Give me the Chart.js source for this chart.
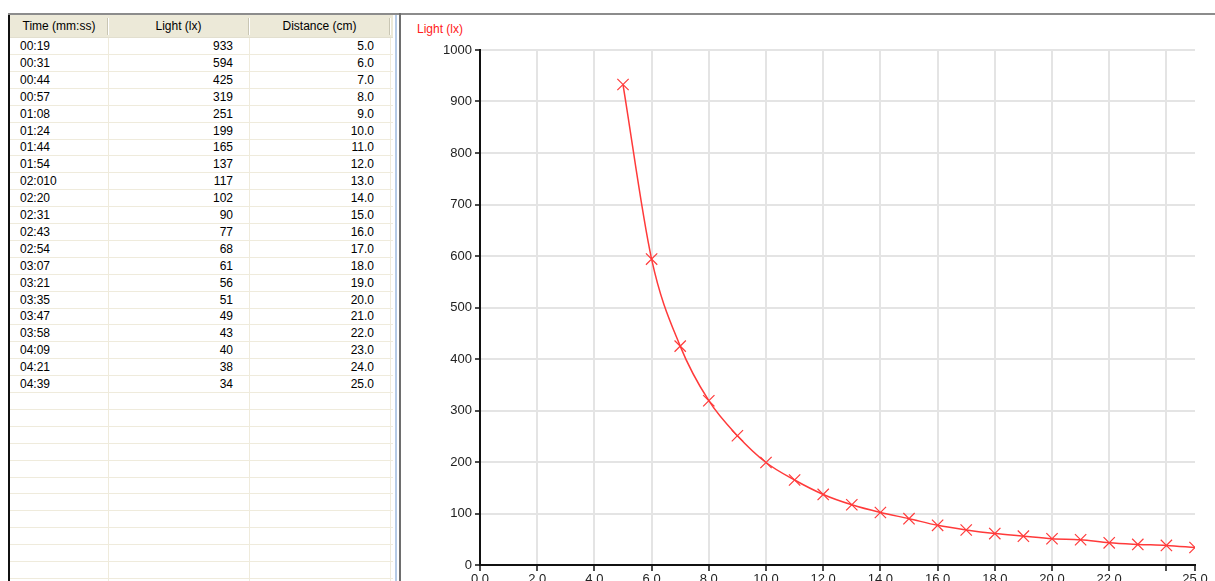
<!DOCTYPE html>
<html><head><meta charset="utf-8">
<script src="https://cdn.jsdelivr.net/npm/chart.js@4.4.1/dist/chart.umd.min.js"></script>
<style>
html,body{margin:0;padding:0;width:1215px;height:581px;overflow:hidden;background:#fff;font-family:"Liberation Sans",Arial,sans-serif;}
#topline{position:absolute;left:8px;top:13px;width:1207px;height:2px;background:#8c8c8c;}
#tbl{position:absolute;left:8px;top:15px;width:383px;height:566px;border-left:2px solid #111;overflow:hidden;background:#fff;}
#hdr{position:absolute;left:0;top:0;width:383px;height:23px;background:#ece9d8;border-bottom:1px solid #e2dfcf;box-sizing:border-box;}
.hc{position:absolute;top:0;height:23px;line-height:23px;font-size:12px;text-align:center;color:#000;}
.hsep{position:absolute;top:3px;height:17px;width:1px;background:#c9c6b4;border-right:1px solid #fff;}
.row{position:absolute;left:0;width:383px;height:17px;border-bottom:1px solid #efebdc;box-sizing:border-box;font-size:12px;color:#000;}
.c{position:absolute;top:0;height:16px;line-height:16px;white-space:nowrap;}
.vline{position:absolute;top:23px;width:1px;height:560px;background:#efebdc;}
#blue{position:absolute;left:395px;top:15px;width:2px;height:566px;background:#b6cbe6;}
#split{position:absolute;left:399px;top:13px;width:2px;height:568px;background:#6e6e6e;}
#ylab{position:absolute;left:417px;top:22px;font-size:12px;line-height:14px;color:#ff2020;}
#wrap{position:absolute;left:401px;top:15px;width:814px;height:600px;}
</style>
</head><body>
<div id="topline"></div>
<div id="tbl">
  <div id="hdr">
    <div class="hc" style="left:0;width:98px;">Time (mm:ss)</div>
    <div class="hc" style="left:98px;width:141px;">Light (lx)</div>
    <div class="hc" style="left:239px;width:141px;">Distance (cm)</div>
    <div class="hsep" style="left:97px;"></div>
    <div class="hsep" style="left:238px;"></div>
    <div class="hsep" style="left:379px;"></div>
  </div>
  <div id="rows"></div>
  <div class="vline" style="left:98px;"></div>
  <div class="vline" style="left:239px;"></div>
  <div class="vline" style="left:380px;"></div>
</div>
<div id="blue"></div>
<div id="split"></div>
<div id="ylab">Light (lx)</div>
<div id="wrap"><canvas id="c"></canvas></div>
<script>
const times = ['00:19','00:31','00:44','00:57','01:08','01:24','01:44','01:54','02:010','02:20','02:31','02:43','02:54','03:07','03:21','03:35','03:47','03:58','04:09','04:21','04:39'];
const light = [933,594,425,319,251,199,165,137,117,102,90,77,68,61,56,51,49,43,40,38,34];
const distances = [5,6,7,8,9,10,11,12,13,14,15,16,17,18,19,20,21,22,23,24,25];
const xTickValues = [0,2,4,6,8,10,12,14,16,18,20,22,24,25];
const yTickValues = [0,100,200,300,400,500,600,700,800,900,1000];

// table rows
const rowsEl = document.getElementById('rows');
const ROW_H = 16.9, TOTAL_ROWS = 34;
for (let k = 0; k < TOTAL_ROWS; k++) {
  const r = document.createElement('div');
  r.className = 'row';
  r.style.top = (23 + k * ROW_H) + 'px';
  if (k < times.length) {
    r.innerHTML =
      '<div class="c" style="left:10px;">' + times[k] + '</div>' +
      '<div class="c" style="left:98px;width:125px;text-align:right;">' + light[k] + '</div>' +
      '<div class="c" style="left:239px;width:125px;text-align:right;">' + distances[k].toFixed(1) + '</div>';
  }
  rowsEl.appendChild(r);
}

const fontTick = {size: 13, family: 'Liberation Sans'};
new Chart(document.getElementById('c'), {
  type: 'line',
  data: {
    datasets: [{
      data: distances.map((d, i) => ({x: d, y: light[i]})),
      borderColor: '#ff3a3a',
      borderWidth: 1.5,
      pointStyle: 'crossRot',
      pointRadius: 8,
      pointBorderColor: '#ff3a3a',
      pointBackgroundColor: '#ff3a3a',
      pointBorderWidth: 1.2,
      cubicInterpolationMode: 'monotone',
      fill: false
    }]
  },
  options: {
    animation: false,
    responsive: true,
    maintainAspectRatio: false,
    layout: {padding: {left: 0, top: 35, right: 20, bottom: 20}},
    plugins: {legend: {display: false}, tooltip: {enabled: false}},
    scales: {
      x: {
        type: 'linear', min: 0, max: 25,
        afterBuildTicks: s => { s.ticks = xTickValues.map(v => ({value: v})); },
        afterFit: s => { s.height = 30; },
        ticks: {autoSkip: false, maxRotation: 0, minRotation: 0, padding: 1, color: '#222', font: fontTick,
          callback: v => (v === 24 ? '' : Number(v).toFixed(1))},
        grid: {color: c => (c.tick && c.tick.value === 25) ? 'rgba(0,0,0,0)' : '#e4e4e4',
          lineWidth: 2, tickColor: '#111', tickLength: 6, tickWidth: 1.5},
        border: {color: '#111', width: 2}
      },
      y: {
        min: 0, max: 1000,
        afterBuildTicks: s => { s.ticks = yTickValues.map(v => ({value: v})); },
        afterFit: s => { s.width = 79; },
        ticks: {padding: 3, color: '#222', font: fontTick, callback: v => String(v)},
        grid: {color: '#e4e4e4', lineWidth: 2, tickColor: '#111', tickLength: 5, tickWidth: 1.5},
        border: {color: '#111', width: 2}
      }
    }
  }
});
</script>
</body></html>
